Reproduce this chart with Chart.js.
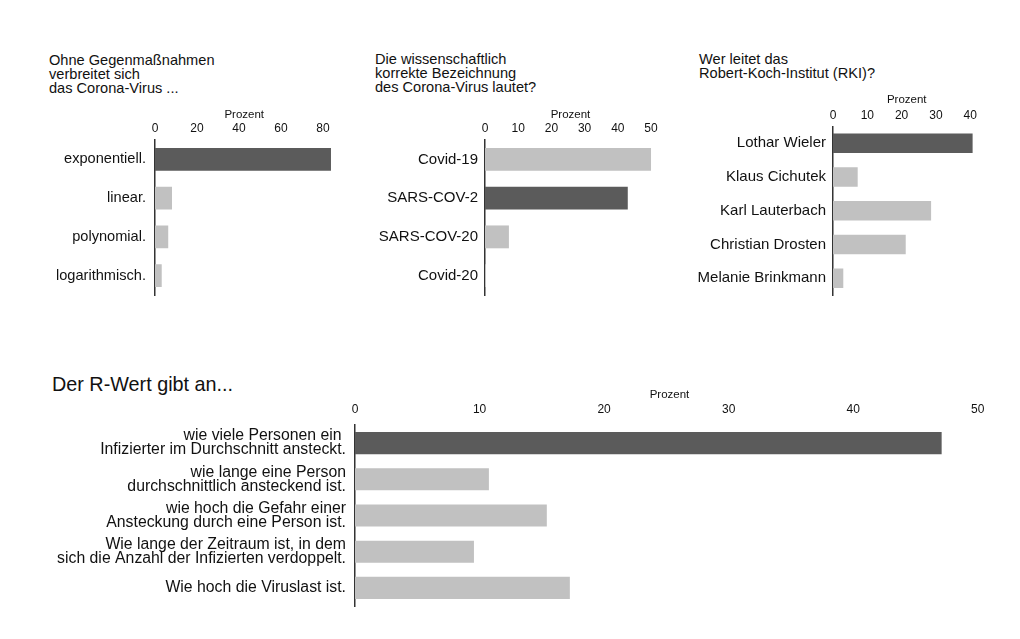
<!DOCTYPE html>
<html>
<head>
<meta charset="utf-8">
<script src="https://cdn.jsdelivr.net/npm/chart.js@4/dist/chart.umd.min.js"></script>
<style>
  body { margin: 0; background: #fff; }
  #page { position: relative; width: 1020px; height: 639px; overflow: hidden; font-family: "Liberation Sans", Arial, sans-serif; color: #111; }
  canvas { position: absolute; }
  .q { position: absolute; font-size: 14.6px; line-height: 14px; white-space: pre; }
  .big { position: absolute; font-size: 19.8px; line-height: 22px; white-space: pre; }
</style>
</head>
<body>
<div id="page">
  <div class="q" style="left:49px; top:53px;">Ohne Gegenmaßnahmen
verbreitet sich
das Corona-Virus ...</div>
  <div class="q" style="left:375px; top:52px;">Die wissenschaftlich
korrekte Bezeichnung
des Corona-Virus lautet?</div>
  <div class="q" style="left:699px; top:52px;">Wer leitet das
Robert-Koch-Institut (RKI)?</div>
  <div class="big" style="left:52px; top:373px;">Der R-Wert gibt an...</div>

  <canvas id="c1" width="300" height="202" style="left:40px; top:96px;"></canvas>
  <canvas id="c2" width="320" height="202" style="left:345px; top:96px;"></canvas>
  <canvas id="c3" width="320" height="216" style="left:680px; top:82px;"></canvas>
  <canvas id="c4" width="990" height="230" style="left:20px; top:380px;"></canvas>
</div>
<script>
const spreadLabels = ['exponentiell.', 'linear.', 'polynomial.', 'logarithmisch.'];
const spreadValues = [83.8, 8.1, 6.3, 3.2];
const spreadTicks = [0, 20, 40, 60, 80];
const spreadCorrect = 0;

const nameLabels = ['Covid-19', 'SARS-COV-2', 'SARS-COV-20', 'Covid-20'];
const nameValues = [50, 43, 7.2, 0.3];
const nameTicks = [0, 10, 20, 30, 40, 50];
const nameCorrect = 1;

const rkiLabels = ['Lothar Wieler', 'Klaus Cichutek', 'Karl Lauterbach', 'Christian Drosten', 'Melanie Brinkmann'];
const rkiValues = [40.7, 7.2, 28.6, 21.2, 3.0];
const rkiTicks = [0, 10, 20, 30, 40];
const rkiCorrect = 0;

const rLabels = [
    ['wie viele Personen ein ', 'Infizierter im Durchschnitt ansteckt.'],
    ['wie lange eine Person', 'durchschnittlich ansteckend ist.'],
    ['wie hoch die Gefahr einer', 'Ansteckung durch eine Person ist.'],
    ['Wie lange der Zeitraum ist, in dem', 'sich die Anzahl der Infizierten verdoppelt.'],
    'Wie hoch die Viruslast ist.'
];
const rValues = [47.1, 10.75, 15.4, 9.55, 17.25];
const rTicks = [0, 10, 20, 30, 40, 50];
const rCorrect = 0;

const DARK = '#5b5b5b';
const LIGHT = '#c1c1c1';

Chart.defaults.font.family = '"Liberation Sans", Arial, sans-serif';
Chart.defaults.color = '#111';

// canvas: position on page, area: wanted chart area in page coordinates
function makeChart(id, cfg) {
    const [cl, ct, cw, ch] = cfg.canvas;
    const [al, at, ar, ab] = cfg.area;
    const yWidth = al - cl;
    const xHeight = at - ct;
    const titleLine = 11.5 * 1.2;

    return new Chart(document.getElementById(id), {
        type: 'bar',
        data: {
            labels: cfg.labels,
            datasets: [{
                data: cfg.values,
                backgroundColor: cfg.values.map((v, i) => i === cfg.correct ? DARK : LIGHT),
                borderWidth: 0,
                barPercentage: cfg.barPct,
                categoryPercentage: 1
            }]
        },
        options: {
            indexAxis: 'y',
            responsive: false,
            animation: false,
            layout: {
                padding: { left: 0, top: 0, right: cl + cw - ar, bottom: ct + ch - ab }
            },
            plugins: {
                legend: { display: false },
                tooltip: { enabled: false }
            },
            scales: {
                x: {
                    position: 'top',
                    min: 0,
                    max: cfg.max,
                    grid: { display: false, drawTicks: false },
                    border: { display: false },
                    ticks: {
                        padding: cfg.tickPad,
                        maxRotation: 0,
                        font: { size: 12 },
                        color: '#111'
                    },
                    title: {
                        display: true,
                        text: 'Prozent',
                        font: { size: 11.5 },
                        color: '#111',
                        padding: { top: cfg.prozentY - (at - xHeight) - titleLine / 2, bottom: 0 }
                    },
                    afterBuildTicks: function(scale) {
                        scale.ticks = cfg.ticks.map(v => ({ value: v }));
                    },
                    afterFit: function(scale) {
                        scale.height = xHeight;
                        scale.paddingLeft = 0;
                        scale.paddingRight = 0;
                    }
                },
                y: {
                    grid: { display: false, drawTicks: false },
                    border: { display: true, color: '#333', width: 1.5 },
                    ticks: {
                        padding: cfg.yPad,
                        font: { size: cfg.labelSize, lineHeight: cfg.labelLine },
                        color: '#111'
                    },
                    afterFit: function(scale) {
                        scale.width = yWidth;
                        scale.paddingTop = 0;
                        scale.paddingBottom = 0;
                    }
                }
            }
        }
    });
}

makeChart('c1', {
    canvas: [40, 96, 300, 202], area: [155, 140, 333.5, 295],
    labels: spreadLabels, values: spreadValues, correct: spreadCorrect, ticks: spreadTicks,
    max: 85, prozentY: 115, tickPad: 4, yPad: 9,
    labelSize: 14.6, labelLine: 1.2, barPct: 0.59
});

makeChart('c2', {
    canvas: [345, 96, 320, 202], area: [485, 140, 656, 295],
    labels: nameLabels, values: nameValues, correct: nameCorrect, ticks: nameTicks,
    max: 51.5, prozentY: 115, tickPad: 4, yPad: 7,
    labelSize: 15, labelLine: 1.2, barPct: 0.59
});

makeChart('c3', {
    canvas: [680, 82, 320, 216], area: [833, 126.5, 980.5, 295],
    labels: rkiLabels, values: rkiValues, correct: rkiCorrect, ticks: rkiTicks,
    max: 43, prozentY: 100, tickPad: 4, yPad: 7,
    labelSize: 15, labelLine: 1.2, barPct: 0.58
});

makeChart('c4', {
    canvas: [20, 380, 990, 230], area: [355, 425, 984, 606],
    labels: rLabels, values: rValues, correct: rCorrect, ticks: rTicks,
    max: 50.5, prozentY: 395, tickPad: 8, yPad: 9,
    labelSize: 15.8, labelLine: '14px', barPct: 0.61
});
</script>
</body>
</html>
